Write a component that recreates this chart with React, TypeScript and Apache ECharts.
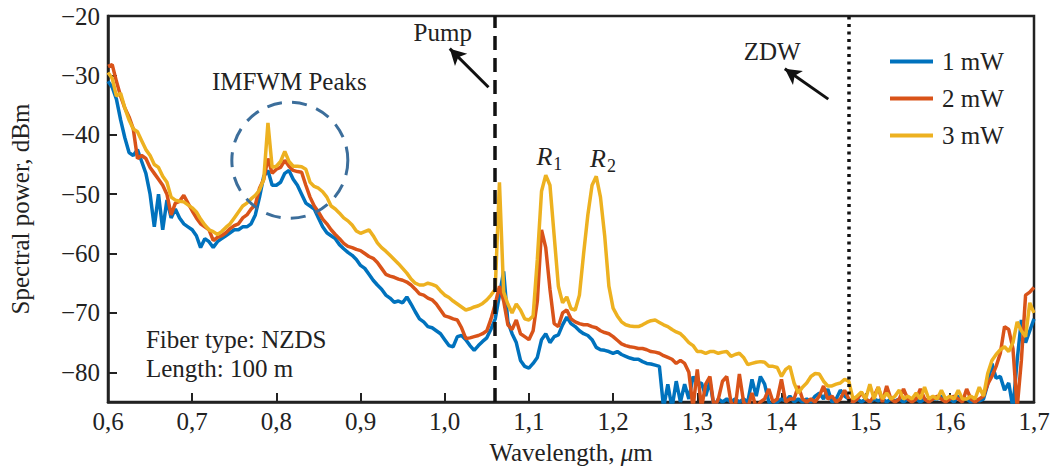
import React, { useEffect, useRef } from 'react';
import * as echarts from 'echarts';

// Sampling grid of the spectrum (µm), 0.005 µm step
const wavelength: number[] = Array.from({ length: 221 }, (_, i) => Math.round((0.6 + i * 0.005) * 1000) / 1000);

// Spectral power, dBm
const power1mW: number[] = [
  -31, -32, -34, -37.5, -40.5, -43, -43.5, -42.5, -44.5, -46.5,
  -50, -55.5, -50, -56, -51, -54, -52.5, -54, -55, -55.5,
  -56, -57, -59, -57.5, -58, -59, -58, -57.5, -57, -56.5,
  -56, -56, -55.5, -55.5, -55, -53.5, -50.5, -47, -46, -48.5,
  -48.5, -48, -46.5, -46, -47.5, -48.5, -50, -51.5, -52, -52.5,
  -54, -55.5, -56.5, -57, -57.5, -58.5, -59.2, -59.8, -60.3, -61,
  -62, -62.5, -63.5, -64.5, -65.3, -66, -67, -67.5, -68.2, -68,
  -68.3, -67.3, -68.5, -69.8, -71, -71.5, -72.3, -72.5, -73, -73.5,
  -74.5, -75.5, -75.7, -74, -73.8, -74.5, -75.5, -76.3, -75.5, -74.8,
  -74.2, -72.7, -71, -67, -63, -71.5, -73.5, -75, -78, -79,
  -79.3, -78.5, -77.5, -74.5, -73.5, -75, -74, -73.7, -72, -70.7,
  -71.8, -72.3, -73, -73.5, -73.8, -74.5, -75.8, -76.2, -76.3, -76.5,
  -76.8, -76.5, -77, -77.3, -77.6, -77.8, -77.8, -78.2, -78.5, -78.6,
  -78.8, -79, -86, -82, -86, -81.5, -85, -82, -84.5, -80.7,
  -82, -81.8, -84, -81.5, -86, -84.5, -85, -84.5, -85, -84.5,
  -85, -84.5, -85, -81.2, -84, -80.7, -82, -85, -86, -85,
  -84.5, -84.8, -84, -85, -84.5, -85, -84.5, -85, -84, -83.5,
  -84.5, -82.8, -85, -84.5, -83, -84, -84.5, -85, -84.5, -85,
  -84.5, -85, -84.5, -84.8, -84.5, -85, -84.5, -84.8, -84.5, -85,
  -84.5, -84.8, -84.5, -85, -84.5, -84.8, -84.5, -84.5, -84, -84.5,
  -84.5, -85, -84, -84.5, -84.5, -85, -84.5, -84.8, -84.5, -82,
  -78.5, -81, -80.7, -83, -81.8, -86, -78, -71.2, -75, -73,
  -71,
];

const power2mW: number[] = [
  -28.5, -28.2, -31, -33.5, -35.5, -37, -39, -44, -43.5, -44,
  -45.5, -46.5, -47.5, -48.5, -50, -53.5, -51.5, -51.2, -50.2, -51.5,
  -52.8, -54, -55, -55.5, -56, -57.8, -57.3, -57, -56.5, -55.8,
  -55.3, -55, -54, -53.5, -52.5, -51.8, -49, -47.5, -44, -46.5,
  -45.8, -45.5, -44.3, -45.3, -46, -46.2, -46.3, -48.5, -50.5, -52,
  -53, -54.2, -55, -56, -56.8, -57.5, -58.3, -58.8, -59, -59.3,
  -59.5, -60, -60.5, -60.8, -61.5, -62.5, -63.5, -63.8, -64, -64.3,
  -64.5, -64.8, -65.3, -66, -66.8, -67, -67.5, -67.8, -68.5, -69.5,
  -70.5, -70.7, -71, -71.2, -72.5, -74.3, -74.2, -74, -73.8, -73.5,
  -73, -71, -68.5, -65.5, -68, -72, -72.8, -71.2, -73.5, -74,
  -74.5, -73, -68, -56, -59, -66, -71.8, -72.3, -70, -69.5,
  -71, -71.5, -71.8, -72, -72, -72.3, -72.5, -73, -73.3, -73.5,
  -74, -74.6, -75.2, -75.5, -75.7, -75.8, -76, -76, -76.2, -76.5,
  -76.6, -76.8, -77.2, -77.5, -77.8, -78.5, -78, -78.5, -80, -86,
  -79.5, -86, -82, -80.7, -86, -84.5, -81.5, -80.7, -85, -86,
  -80.3, -85, -86, -83.5, -86, -85, -84.5, -82.8, -85, -84.5,
  -81.2, -85, -84.5, -84.5, -82.3, -84.5, -85, -84.5, -85, -84,
  -82.3, -84.5, -84, -85, -84.5, -83, -84.5, -85, -84.5, -83.5,
  -84.5, -85, -84, -82.5, -85, -82.3, -84.5, -85, -84.5, -82.8,
  -84.5, -85, -84.5, -82.8, -84.5, -85, -84.5, -84, -84.5, -85,
  -84.5, -84, -84.5, -85, -82.8, -84.5, -85, -84.5, -84, -82,
  -80.7, -79, -76.8, -72.3, -72.8, -76, -86, -78, -67, -66.5,
  -65.7,
];

const power3mW: number[] = [
  -29.5, -30.5, -33.5, -33, -35.5, -37.5, -39, -39.5, -41, -42.5,
  -43.5, -45, -45.5, -47, -48, -50.5, -51, -51.2, -51.3, -51.8,
  -52.3, -53, -54.2, -55.2, -56, -56.3, -56.8, -56.3, -55.6, -55,
  -54, -53, -52, -51.5, -50.8, -50.2, -49.3, -47.5, -38, -45.5,
  -45.3, -44.5, -42.8, -44.5, -45.3, -45.3, -45.4, -45.8, -48, -48.7,
  -49, -49.6, -50.5, -52, -52.5, -53.2, -54, -54.5, -55.2, -56.2,
  -56.6, -56.3, -56, -57, -58.2, -59, -59.6, -60.3, -61, -61.7,
  -62.5, -63.3, -64.3, -65, -65.3, -65.3, -65, -65.2, -65.5, -66.3,
  -67, -67.4, -68, -68.5, -69, -69.5, -69.3, -69, -68.8, -68.4,
  -67.8, -67, -66, -48, -66.5, -68.5, -70, -68.5, -69.5, -71,
  -71.2, -70.5, -61, -49.5, -46.8, -48.5, -57, -65.5, -68.3, -67.3,
  -69.3, -69.5, -67, -60, -53.5, -48.5, -47, -50.5, -57, -65.5,
  -69.2, -70.5, -71.5, -72, -72.2, -72.3, -72.3, -72, -71.6, -71.3,
  -71.2, -71.6, -72, -72.3, -72.8, -73.2, -73.5, -74.2, -75, -75.5,
  -76.5, -76.5, -76.8, -76.5, -76.5, -76.8, -76.6, -76.5, -77.3, -77,
  -76.8, -77.5, -78.7, -78.5, -78.3, -78.2, -78.3, -79, -79, -79.2,
  -80.7, -79.5, -79, -81.8, -83.5, -82.5, -81.8, -80.7, -80.2, -80.3,
  -81.5, -82.3, -82.3, -82, -81.8, -81.2, -81.5, -84.5, -84, -83.3,
  -84.5, -82, -84.5, -82.5, -84.5, -83.5, -84.5, -84, -83, -84.5,
  -84, -84.5, -83.5, -84.5, -82.5, -84.5, -84, -84.5, -83, -84.5,
  -84, -84.5, -83, -84.5, -84.5, -84, -84.5, -82.5, -84, -80.2,
  -78, -77, -76.2, -75.7, -76.5, -75, -71.5, -73, -74, -68.3,
  -70,
];

const seriesNames = ['1 mW', '2 mW', '3 mW'];
const seriesColors = ['#0072BD', '#D95319', '#EDB120'];
const seriesValues = [power1mW, power2mW, power3mW];

const pumpWavelength = 1.065;
const zdwWavelength = 1.481;

const FONT = 'Liberation Serif, serif';
const FS = 25;
const INK = '#222';

const fmtX = (v: number) => v.toFixed(1).replace('.', ',');
const fmtY = (v: number) => (v === -85 ? '' : v < 0 ? '\u2212' + Math.abs(v) : String(v));

export default function App() {
  const ref = useRef<HTMLDivElement>(null);

  useEffect(() => {
    if (!ref.current) return;
    const chart = echarts.init(ref.current, undefined, { renderer: 'svg' });

    const lineSeries = seriesNames.map((name, k) => ({
      name,
      type: 'line',
      data: wavelength.map((x, i) => [x, seriesValues[k][i]]),
      showSymbol: false,
      symbol: 'none',
      clip: true,
      color: seriesColors[k],
      lineStyle: { width: 3.5, color: seriesColors[k] },
      z: 2 + k,
    }));

    const option: any = {
      animation: false,
      backgroundColor: '#fff',
      textStyle: { fontFamily: FONT },
      grid: {
        left: 105,
        right: 19,
        top: 16,
        bottom: 66,
        show: true,
        borderColor: INK,
        borderWidth: 2.5,
        backgroundColor: 'transparent',
      },
      legend: {
        orient: 'vertical',
        left: 885,
        top: 44,
        itemWidth: 43,
        itemHeight: 4,
        itemGap: 12,
        icon: 'rect',
        data: seriesNames,
        textStyle: { fontFamily: FONT, fontSize: FS, color: INK, padding: [0, 0, 0, 4] },
      },
      xAxis: {
        type: 'value',
        min: 0.6,
        max: 1.7,
        interval: 0.1,
        name: 'Wavelength, {i|\u03bc}m',
        nameLocation: 'middle',
        nameGap: 38,
        nameTextStyle: {
          fontFamily: FONT,
          fontSize: FS,
          color: INK,
          rich: { i: { fontFamily: FONT, fontSize: FS, fontStyle: 'italic', color: INK } },
        },
        axisLine: { lineStyle: { color: INK, width: 2.5 } },
        axisTick: { inside: true, length: 9, lineStyle: { color: INK, width: 2 } },
        axisLabel: { formatter: fmtX, fontFamily: FONT, fontSize: FS, color: INK, margin: 7 },
        splitLine: { show: false },
      },
      yAxis: {
        type: 'value',
        min: -85,
        max: -20,
        splitNumber: 7,
        name: 'Spectral power, dBm',
        nameLocation: 'middle',
        nameGap: 75,
        nameTextStyle: { fontFamily: FONT, fontSize: FS, color: INK },
        axisLine: { lineStyle: { color: INK, width: 2.5 } },
        axisTick: { inside: true, length: 9, lineStyle: { color: INK, width: 2 } },
        axisLabel: { formatter: fmtY, fontFamily: FONT, fontSize: FS, color: INK, margin: 8 },
        splitLine: { show: false },
      },
      series: [
        ...lineSeries,
        {
          name: 'annotations',
          type: 'line',
          data: [],
          z: 10,
          markLine: {
            silent: true,
            animation: false,
            symbol: ['none', 'none'],
            symbolSize: [13, 16],
            label: { show: false },
            data: [
              { xAxis: pumpWavelength, lineStyle: { type: [14, 8], width: 3.5, color: '#111' } },
              { xAxis: zdwWavelength, lineStyle: { type: [3, 4.5], width: 3.5, color: '#111' } },
              [
                { coord: [1.052, -32], symbol: 'none', lineStyle: { width: 3, color: '#111', type: 'solid' } },
                { coord: [1.006, -25.5], symbol: 'arrow' },
              ],
              [
                { coord: [1.4556, -34], symbol: 'none', lineStyle: { width: 3, color: '#111', type: 'solid' } },
                { coord: [1.404, -28.9], symbol: 'arrow' },
              ],
            ],
          },
        },
      ],
    };

    chart.setOption(option);

    const px = (x: number, y: number) => chart.convertToPixel({ gridIndex: 0 }, [x, y]) as number[];
    const txt = (x: number, y: number, text: string, align: string) => {
      const p = px(x, y);
      return {
        type: 'text',
        x: p[0],
        y: p[1],
        z: 20,
        style: {
          text,
          fill: INK,
          fontFamily: FONT,
          fontSize: FS,
          align,
          verticalAlign: 'middle',
        },
      };
    };
    const sub = (x: number, y: number, main: string, s: string) => {
      const p = px(x, y);
      return [
        {
          type: 'text', x: p[0], y: p[1], z: 20,
          style: { text: main, fill: INK, fontFamily: FONT, fontSize: FS + 1, fontStyle: 'italic', align: 'center', verticalAlign: 'middle' },
        },
        {
          type: 'text', x: p[0] + 9, y: p[1] + 7, z: 20,
          style: { text: s, fill: INK, fontFamily: FONT, fontSize: 18, align: 'left', verticalAlign: 'middle' },
        },
      ];
    };

    const c = px(0.816, -44.3);
    chart.setOption({
      graphic: [
        {
          type: 'circle',
          shape: { cx: c[0], cy: c[1], r: 58 },
          z: 20,
          style: { fill: 'none', stroke: '#3c6e9b', lineWidth: 3, lineDash: [15, 10] },
        },
        txt(0.8154, -31, 'IMFWM Peaks', 'center'),
        txt(0.9976, -22.8, 'Pump', 'center'),
        txt(1.389, -26, 'ZDW', 'center'),
        ...sub(1.1183, -43.7, 'R', '1'),
        ...sub(1.182, -44, 'R', '2'),
        txt(0.645, -74.5, 'Fiber type: NZDS', 'left'),
        txt(0.645, -79.3, 'Length: 100 m', 'left'),
      ],
    });

    return () => chart.dispose();
  }, []);

  return <div ref={ref} style={{ position: 'fixed', left: 0, top: 0, width: 1053, height: 470 }} />;
}
